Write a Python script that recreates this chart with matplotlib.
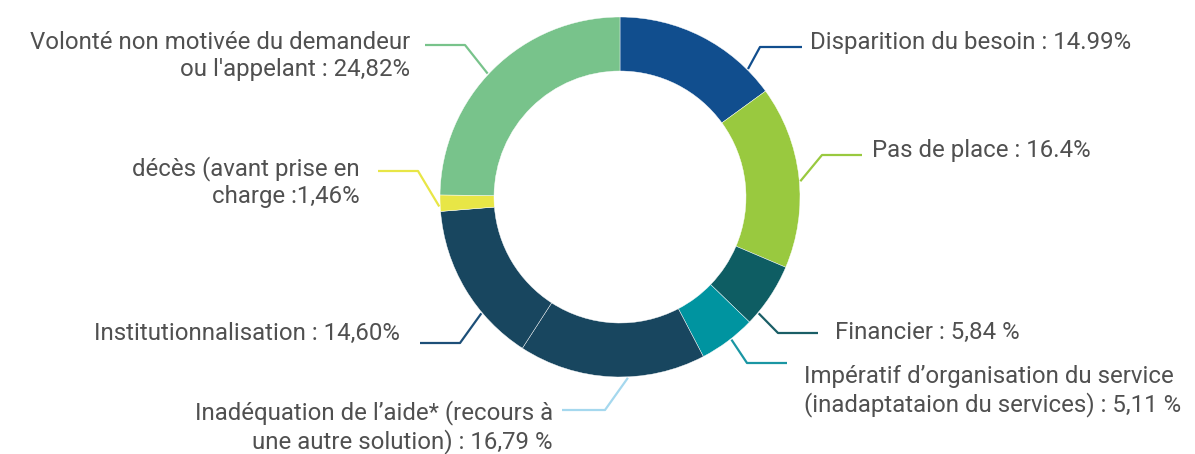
import numpy as np
import matplotlib
matplotlib.use("Agg")
import matplotlib.pyplot as plt

# donnees
labels = [
    "Disparition du besoin : 14.99%",
    "Pas de place : 16.4%",
    "Financier : 5,84 %",
    "Impératif d\u2019organisation du service\n(inadaptataion du services) : 5,11 %",
    "Inadéquation de l\u2019aide* (recours à\nune autre solution) : 16,79 %",
    "Institutionnalisation : 14,60%",
    "décès (avant prise en\ncharge :1,46%",
    "Volonté non motivée du demandeur\nou l'appelant : 24,82%",
]
values = [14.99, 16.4, 5.84, 5.11, 16.79, 14.60, 1.46, 24.82]
colors = ["#114e8e", "#99c93f", "#0e5d63", "#0094a0",
          "#18465f", "#18465f", "#e8e646", "#78c38b"]
line_colors = ["#114e8e", "#99c93f", "#1a5e66", "#1a96a3",
               "#a5d8ee", "#1d4f78", "#e8e646", "#78c38b"]

# mise en page (pixels, y vers le bas)
W, H = 1195, 454
cx, cy, R = 620, 197, 180
# angle de depart du trait (degres depuis le haut, sens horaire), coude, fin du trait, texte
start_ang = [45, 85, 130, 142, 177.5, 230, 267, 313]
elbows = [(760, 47), (822, 155), (778, 333), (747, 363),
          (605, 410), (460, 343), (418, 171), (465, 45)]
ends_x = [802, 862, 818, 787, 562, 420, 378, 425]
text_pos = [(810, 42), (872, 150), (835, 332), (804, 391),
            (553, 427), (400, 333), (360, 182), (410, 56)]

fig = plt.figure(figsize=(W / 100, H / 100), dpi=100)
ax = fig.add_axes([0, 0, 1, 1])
ax.set_xlim(0, W)
ax.set_ylim(0, H)
ax.set_aspect("equal")
ax.axis("off")

def fy(y):
    return H - y

ax.pie(values, colors=colors, startangle=90, counterclock=False,
       radius=R, center=(cx, fy(cy)),
       wedgeprops=dict(width=R * 0.3, edgecolor="white", linewidth=0.3))
ax.set_xlim(0, W)
ax.set_ylim(0, H)

for i, lab in enumerate(labels):
    a = np.deg2rad(start_ang[i])
    x0 = cx + (R + 1) * np.sin(a)
    y0 = cy - (R + 1) * np.cos(a)
    ex, ey = elbows[i]
    ax.plot([x0, ex, ends_x[i]], [fy(y0), fy(ey), fy(ey)],
            color=line_colors[i], lw=1.6, solid_capstyle="butt")
    tx, ty = text_pos[i]
    ha = "left" if ends_x[i] > ex else "right"
    ax.text(tx, fy(ty), lab, ha=ha, va="center", fontsize=17.3,
            family="Roboto", color="#505050", linespacing=1.2,
            multialignment=ha)

fig.savefig("out.png", dpi=100)
